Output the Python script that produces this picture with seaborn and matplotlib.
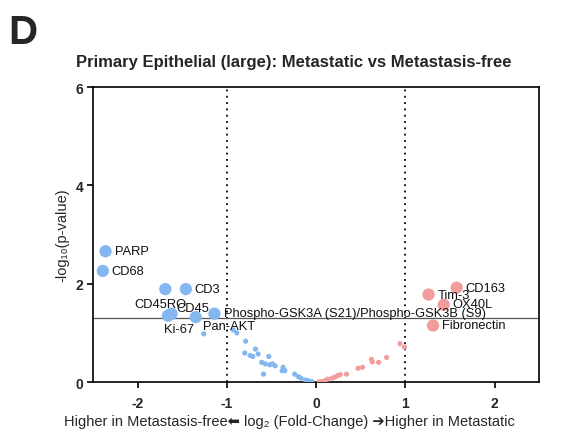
import matplotlib
matplotlib.use("Agg")
import matplotlib.pyplot as plt
import seaborn as sns
import pandas as pd

# ---- data ----
big_labels = ["PARP", "CD68", "CD45RO", "CD3", "Ki-67", "CD45", "Pan-AKT",
              "Phospho-GSK3A (S21)/Phospho-GSK3B (S9)",
              "CD163", "Tim-3", "OX40L", "Fibronectin"]
big_x = [-2.36, -2.39, -1.69, -1.46, -1.66, -1.62, -1.35, -1.14,
         1.575, 1.26, 1.43, 1.31]
big_y = [2.66, 2.26, 1.89, 1.89, 1.35, 1.39, 1.32, 1.39,
         1.92, 1.78, 1.57, 1.15]

small_neg_x = [-1.26, -0.93, -0.89, -0.79, -0.68, -0.80, -0.74, -0.71, -0.65,
               -0.53, -0.61, -0.57, -0.52, -0.49, -0.46, -0.37, -0.38, -0.59,
               -0.35, -0.24, -0.20, -0.17, -0.12, -0.09, -0.05, -0.10]
small_neg_y = [0.98, 1.06, 1.00, 0.83, 0.67, 0.59, 0.54, 0.52, 0.57,
               0.52, 0.40, 0.37, 0.35, 0.37, 0.33, 0.30, 0.23, 0.16,
               0.23, 0.16, 0.11, 0.08, 0.04, 0.03, 0.01, 0.03]
small_pos_x = [0.94, 0.99, 0.79, 0.62, 0.63, 0.70, 0.47, 0.52, 0.34, 0.27,
               0.24, 0.21, 0.18, 0.13, 0.10, 0.06, 0.03]
small_pos_y = [0.78, 0.71, 0.50, 0.46, 0.41, 0.40, 0.28, 0.30, 0.16, 0.15,
               0.13, 0.10, 0.08, 0.06, 0.03, 0.01, 0.00]

x_ticks = [-2, -1, 0, 1, 2]
y_ticks = [0, 2, 4, 6]
title = "Primary Epithelial (large): Metastatic vs Metastasis-free"
x_label = "Higher in Metastasis-free\u2B05 log\u2082 (Fold-Change) \u2794Higher in Metastatic"
y_label = "-log\u2081\u2080(p-value)"

# ---- style ----
sns.set_theme(style="ticks")
plt.rcParams['font.family'] = ['Liberation Sans', 'DejaVu Sans']

BLUE = "#84B6F0"
RED = "#F29C9C"

big = pd.DataFrame({"x": big_x, "y": big_y, "label": big_labels})
big["side"] = ["neg" if v < 0 else "pos" for v in big["x"]]
small = pd.DataFrame({
    "x": small_neg_x + small_pos_x,
    "y": small_neg_y + small_pos_y,
    "side": ["neg"] * len(small_neg_x) + ["pos"] * len(small_pos_x),
})

fig = plt.figure(figsize=(5.64, 4.35), dpi=100)
ax = fig.add_axes([0.165, 0.1195, 0.791, 0.678])

palette = {"neg": BLUE, "pos": RED}
sns.scatterplot(data=small, x="x", y="y", hue="side", palette=palette,
                s=14, linewidth=0, legend=False, ax=ax, zorder=3)
sns.scatterplot(data=big, x="x", y="y", hue="side", palette=palette,
                s=78, linewidth=0, legend=False, ax=ax, zorder=3)

ax.axvline(-1, color="black", ls=(0, (1, 2.5)), lw=1.3, zorder=2)
ax.axvline(1, color="black", ls=(0, (1, 2.5)), lw=1.3, zorder=2)
ax.axhline(1.301, color="#555555", lw=0.9, zorder=2)

# label offsets (pixels) and alignment
offsets = {
    "PARP": (9, 0, "left"),
    "CD68": (9, 0, "left"),
    "CD45RO": (-5, -15, "center"),
    "CD3": (9, 0, "left"),
    "Ki-67": (11, -13, "center"),
    "CD45": (5, 6, "left"),
    "Pan-AKT": (7, -9, "left"),
    "Phospho-GSK3A (S21)/Phospho-GSK3B (S9)": (10, 1, "left"),
    "CD163": (9, 0, "left"),
    "Tim-3": (9, 0, "left"),
    "OX40L": (9, 1, "left"),
    "Fibronectin": (9, 0, "left"),
}
for lab, xv, yv in zip(big_labels, big_x, big_y):
    dx, dy, ha = offsets[lab]
    ax.annotate(lab, (xv, yv), xytext=(dx, dy), textcoords="offset pixels",
                ha=ha, va="center", fontsize=9.3, color="#111111", zorder=4)

ax.set_xlim(-2.5, 2.5)
ax.set_ylim(0, 6)
ax.set_xticks(x_ticks)
ax.set_yticks(y_ticks)
ax.set_xticklabels([str(t) for t in x_ticks], fontweight="bold", fontsize=10)
ax.set_yticklabels([str(t) for t in y_ticks], fontweight="bold", fontsize=10)
ax.tick_params(axis="x", direction="out", length=4, width=1.2, color="black", pad=6)
ax.tick_params(axis="y", direction="out", length=4, width=1.2, color="black", pad=3)
for sp in ax.spines.values():
    sp.set_color("black")
    sp.set_linewidth(1.2)

ax.set_ylabel(y_label, fontsize=10.5)
ax.yaxis.set_label_coords(-0.052, 0.5)
ax.set_xlabel(x_label, fontsize=10.5, va="center")
ax.xaxis.set_label_coords(0.44, -0.132)

fig.text(0.521, 0.857, title, ha="center", va="center", fontsize=12,
         fontweight="bold")
fig.text(0.014, 0.925, "D", ha="left", va="center", fontsize=29,
         fontweight="bold")

fig.savefig("out.png", dpi=100)
